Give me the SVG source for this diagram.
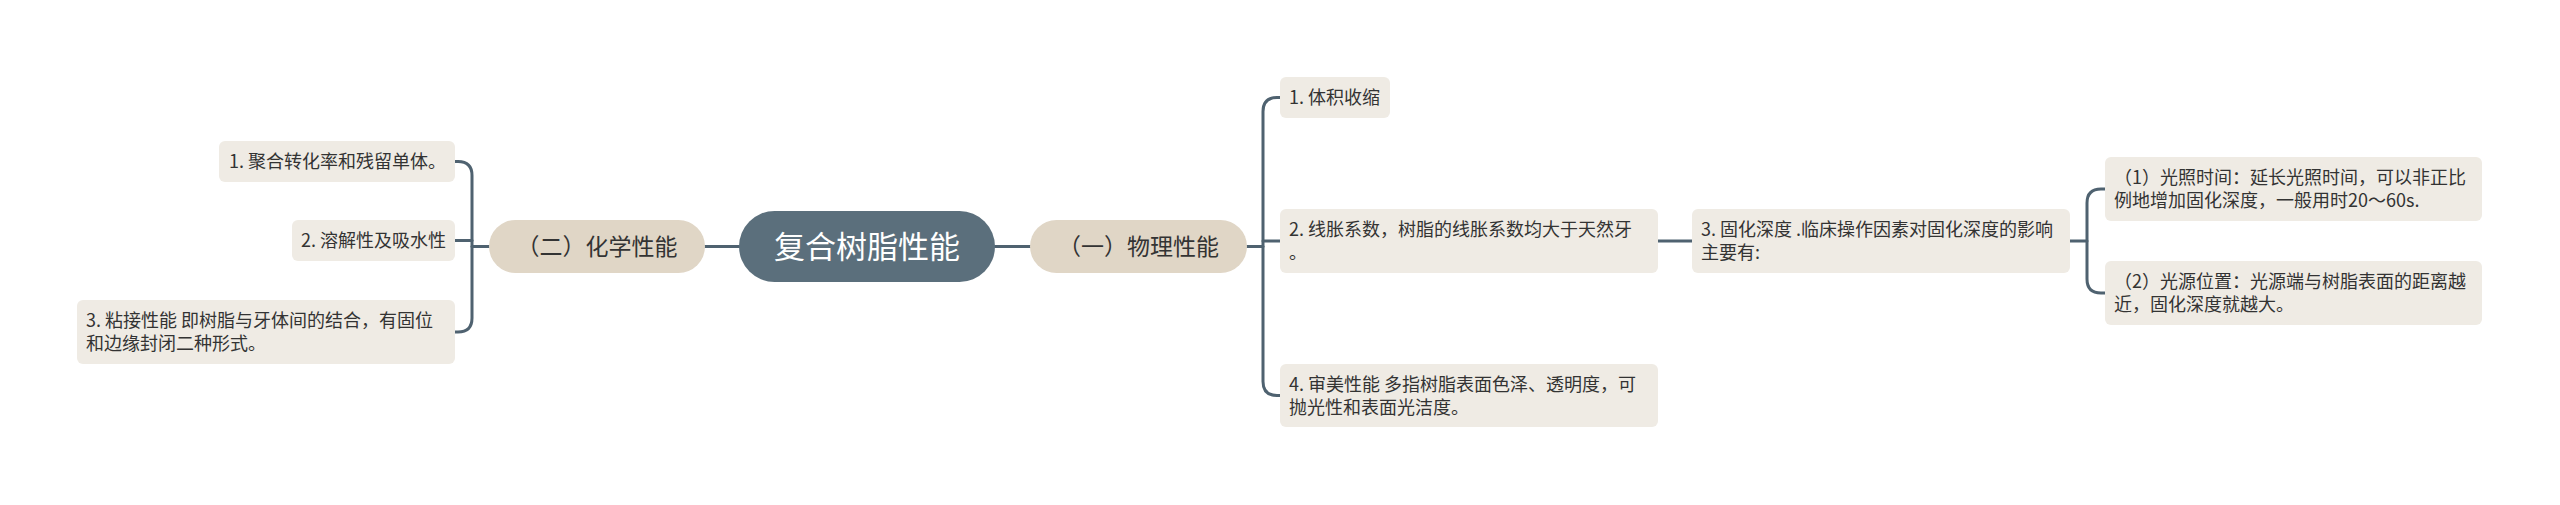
<svg xmlns="http://www.w3.org/2000/svg" width="2560" height="505" viewBox="0 0 2560 505">
<style>
text{font-family:"Noto Sans CJK SC","Noto Sans",sans-serif;fill:#333;}
.leaf{fill:#efebe4;}
.sub{fill:#e0d6c6;}
.root{fill:#5b6f7c;}
.lt{font-size:18px;}
.st{font-size:23px;text-anchor:middle;}
.rt{font-size:31px;text-anchor:middle;fill:#fff;}
.c{fill:none;stroke:#4f6270;stroke-width:3;stroke-linecap:round;}
</style>
<rect width="2560" height="505" fill="#fff"/>
<g id="connectors">
<path class="c" d="M705,246.5H739"/>
<path class="c" d="M995,246.5H1030"/>
<path class="c" d="M1247,246.5H1263"/>
<path class="c" d="M1280,97.5H1277Q1263,97.5 1263,111.5V381.5Q1263,395.5 1277,395.5H1280"/>
<path class="c" d="M1263,241H1280"/>
<path class="c" d="M1658,241H1692"/>
<path class="c" d="M2070,241H2087"/>
<path class="c" d="M2105,189H2101Q2087,189 2087,203V279Q2087,293 2101,293H2105"/>
<path class="c" d="M489,246.5H472"/>
<path class="c" d="M455,161.5H458Q472,161.5 472,175.5V318Q472,332 458,332H455"/>
<path class="c" d="M455,240.5H472"/>
</g>
<g id="root">
<rect class="root" x="739" y="211" width="256" height="71" rx="35.5"/>
<text class="rt" x="867" y="258">复合树脂性能</text>
</g>
<g id="sub1">
<rect class="sub" x="1030" y="220" width="217" height="53" rx="26.5"/>
<text class="st" x="1138.5" y="255">（一）物理性能</text>
</g>
<g id="sub2">
<rect class="sub" x="489" y="220" width="216" height="53" rx="26.5"/>
<text class="st" x="597" y="255">（二）化学性能</text>
</g>
<g id="r1">
<rect class="leaf" x="1280" y="77" width="110" height="41" rx="6"/>
<text class="lt" x="1289" y="104.3">1. 体积收缩</text>
</g>
<g id="r2">
<rect class="leaf" x="1280" y="209" width="378" height="64" rx="6"/>
<text class="lt" x="1289" y="236.3">2. 线胀系数，树脂的线胀系数均大于天然牙</text>
<text class="lt" x="1289" y="259.3">。</text>
</g>
<g id="r3">
<rect class="leaf" x="1692" y="209" width="378" height="64" rx="6"/>
<text class="lt" x="1701" y="236.3">3. 固化深度 .临床操作因素对固化深度的影响</text>
<text class="lt" x="1701" y="259.3">主要有:</text>
</g>
<g id="r4">
<rect class="leaf" x="1280" y="364" width="378" height="63" rx="6"/>
<text class="lt" x="1289" y="391.3">4. 审美性能 多指树脂表面色泽、透明度，可</text>
<text class="lt" x="1289" y="414.3">抛光性和表面光洁度。</text>
</g>
<g id="c1">
<rect class="leaf" x="2105" y="157" width="377" height="64" rx="6"/>
<text class="lt" x="2114" y="184.3">（1）光照时间：延长光照时间，可以非正比</text>
<text class="lt" x="2114" y="207.3">例地增加固化深度，一般用时20～60s.</text>
</g>
<g id="c2">
<rect class="leaf" x="2105" y="261" width="377" height="64" rx="6"/>
<text class="lt" x="2114" y="288.3">（2）光源位置：光源端与树脂表面的距离越</text>
<text class="lt" x="2114" y="311.3">近，固化深度就越大。</text>
</g>
<g id="l1">
<rect class="leaf" x="219" y="141" width="236" height="41" rx="6"/>
<text class="lt" x="229" y="168.3">1. 聚合转化率和残留单体。</text>
</g>
<g id="l2">
<rect class="leaf" x="292" y="220" width="163" height="41" rx="6"/>
<text class="lt" x="301" y="247.3">2. 溶解性及吸水性</text>
</g>
<g id="l3">
<rect class="leaf" x="77" y="300" width="378" height="64" rx="6"/>
<text class="lt" x="86" y="327.3">3. 粘接性能 即树脂与牙体间的结合，有固位</text>
<text class="lt" x="86" y="350.3">和边缘封闭二种形式。</text>
</g>
</svg>
